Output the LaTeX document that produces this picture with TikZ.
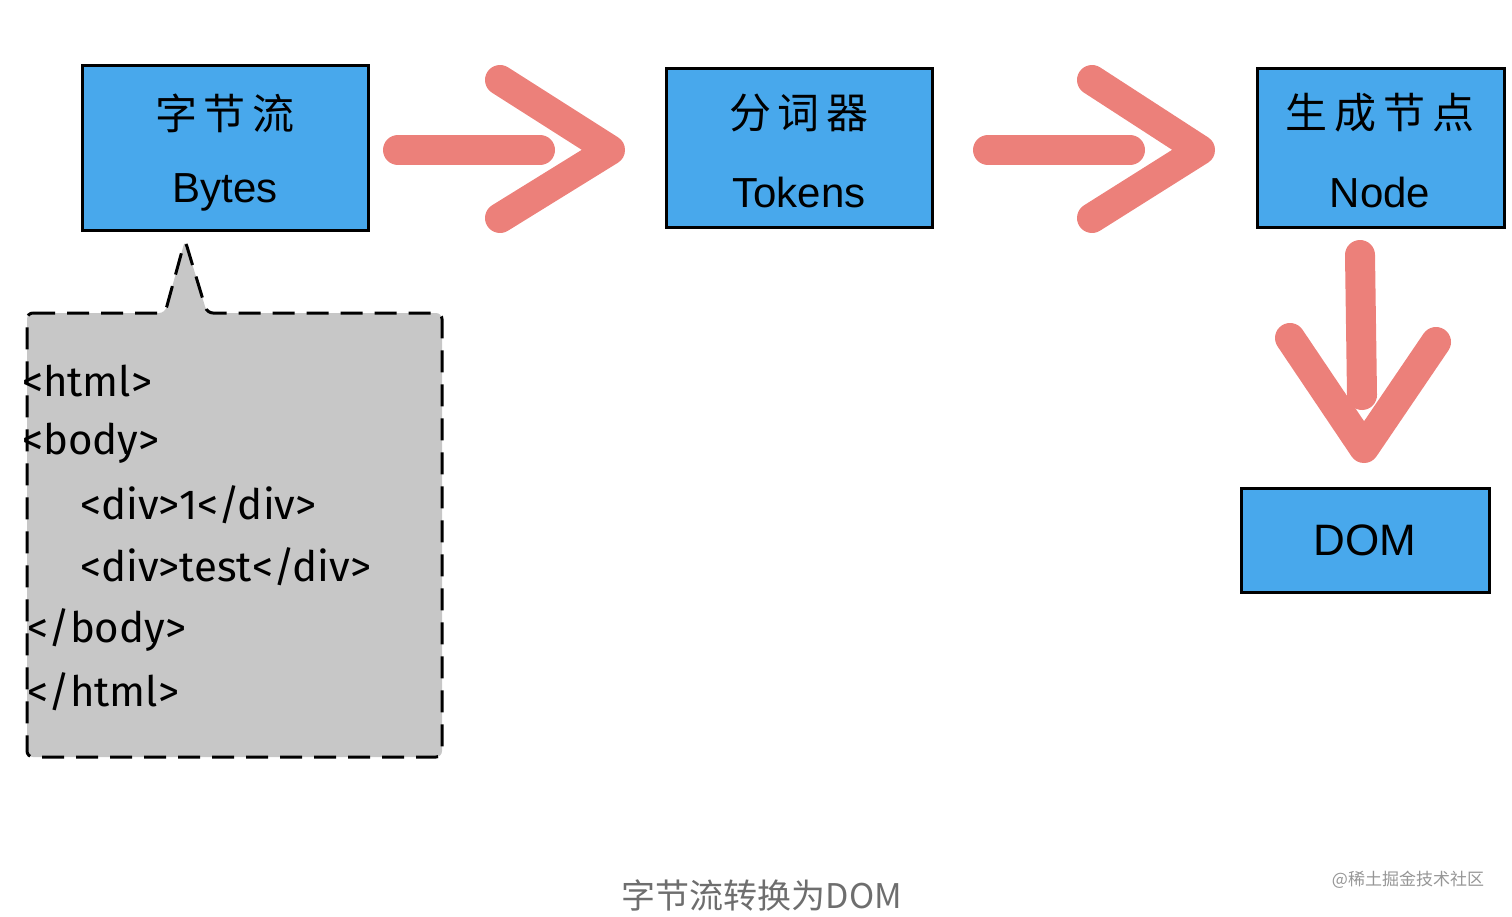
\documentclass[tikz,border=0pt]{standalone}
\usepackage{fontspec}
\setmainfont{Liberation Sans}
\newfontfamily\cjk{Noto Sans CJK SC}
\newfontfamily\code{Fira Sans}
\begin{document}
\begin{tikzpicture}[x=1pt,y=-1pt,
  box/.style={draw=black,line width=3pt,fill={rgb,255:red,72;green,168;blue,236},inner sep=0pt},
  arr/.style={draw={rgb,255:red,236;green,128;blue,122},line width=30pt,line cap=round,line join=round},
  codeline/.style={anchor=west,font=\code\fontsize{42}{44}\selectfont,inner sep=0pt}]
\useasboundingbox (0,0) rectangle (1512,916);
% boxes
\node[box,minimum width=286pt,minimum height=165pt] (bytes) at (225,147.5) {};
\node[font=\cjk\fontsize{42}{44}\selectfont] (bytesC) at (225,113) {字\,节\,流};
\node[font=\fontsize{42}{44}\selectfont] (bytesE) at (225,192) {Bytes};
\node[box,minimum width=266pt,minimum height=159pt] (tok) at (799,147.5) {};
\node[font=\cjk\fontsize{42}{44}\selectfont] at (799,113) {分\,词\,器};
\node[font=\fontsize{42}{44}\selectfont] at (799,192) {Tokens};
\node[box,minimum width=247pt,minimum height=159pt] (nd) at (1380.5,147.5) {};
\node[font=\cjk\fontsize{42}{44}\selectfont] at (1380,113) {生\,成\,节\,点};
\node[font=\fontsize{42}{44}\selectfont] at (1380,192) {Node};
\node[box,minimum width=248pt,minimum height=104pt,font=\fontsize{44}{46}\selectfont] (dom) at (1365,540) {DOM};
% arrows
\draw[arr] (398,150) -- (540,150);
\draw[arr] (500,80) -- (610,150) -- (500,218);
\draw[arr] (988,150) -- (1130,150);
\draw[arr] (1092,80) -- (1200,150) -- (1092,218);
\draw[arr] (1360,255) -- (1362,395);
\draw[arr] (1290,338) -- (1364,448) -- (1436,342);
% callout
\draw[line width=3pt,dash pattern=on 22pt off 12pt,fill={rgb,255:red,199;green,199;blue,199},rounded corners=6pt]
 (27,313) -- (165,313) -- (185,240) -- (207,313) -- (442,313) -- (442,757) -- (27,757) -- cycle;
\node[codeline] at (22,381) {<html>};
\node[codeline] at (22,443) {<body>};
\node[codeline] at (80,505) {<div>1</div>};
\node[codeline] at (80,567) {<div>test</div>};
\node[codeline] at (27,630) {</body>};
\node[codeline] at (27,692) {</html>};
% caption
\node[font=\cjk\fontsize{34}{36}\selectfont,text={rgb,255:red,110;green,110;blue,110}] at (762,895) {字节流转换为DOM};
\node[font=\cjk\fontsize{17}{19}\selectfont,text={rgb,255:red,150;green,150;blue,150}] at (1408,880) {@稀土掘金技术社区};
\end{tikzpicture}
\end{document}
